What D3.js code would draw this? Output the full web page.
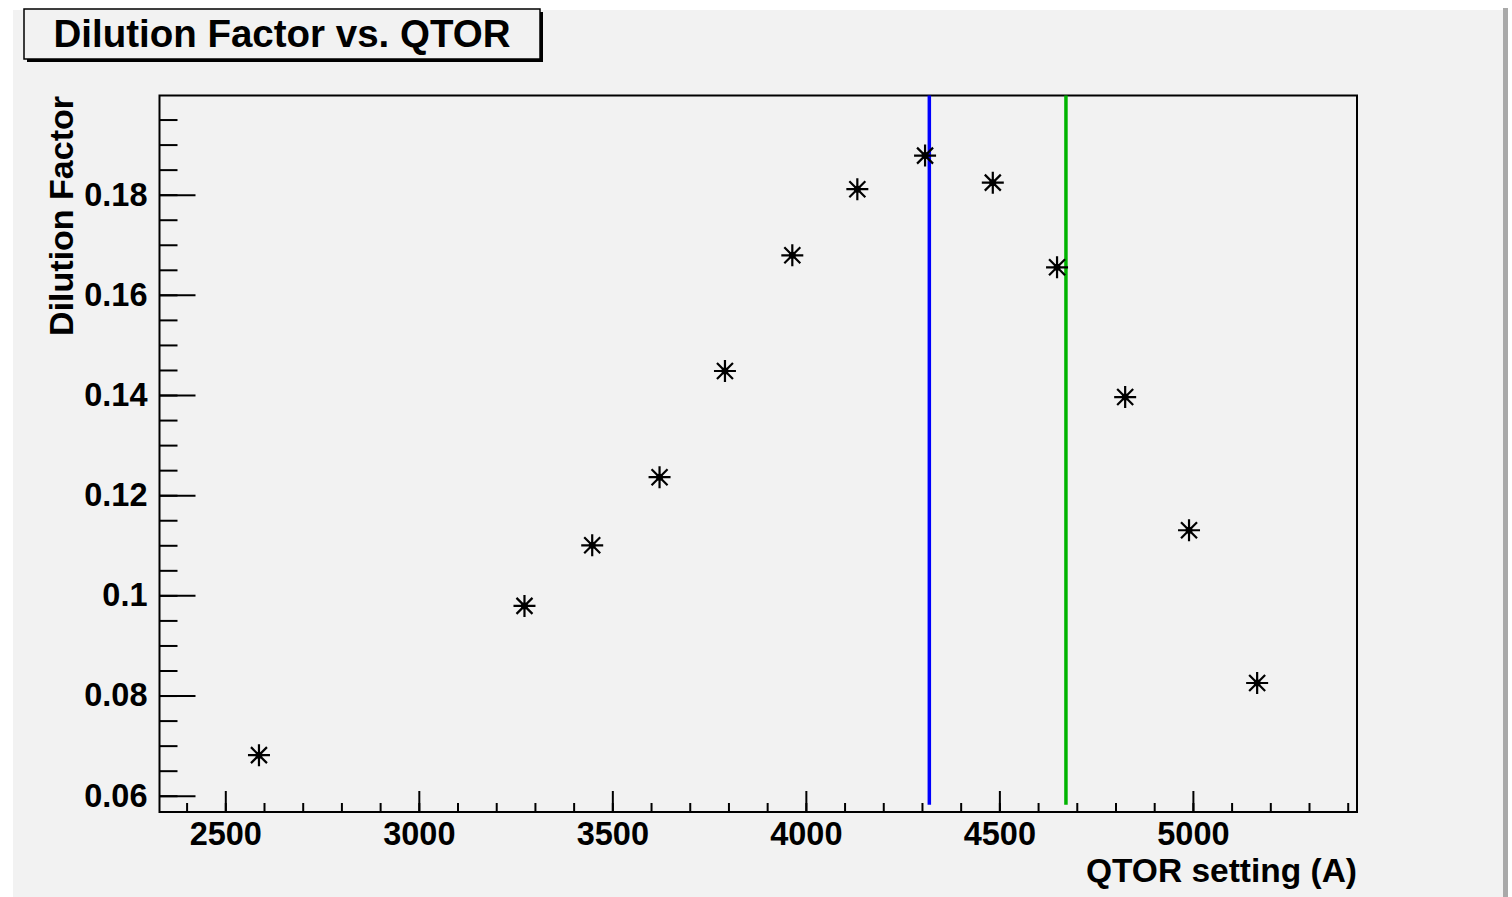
<!DOCTYPE html>
<html>
<head>
<meta charset="utf-8">
<script src="https://cdn.jsdelivr.net/npm/d3@7"></script>
<style>
	body { margin: 0; background: #ffffff; }
	svg text { font-family: "Liberation Sans", Arial, sans-serif; font-weight: bold; fill: #000; }
</style>
</head>
<body>
<svg id="chart" width="1512" height="897"></svg>
<script>
// data
var qtorSetting   = [2587, 3273, 3448, 3622, 3791, 3965, 4133, 4308, 4483, 4649, 4825, 4990, 5166];
var dilutionFactor = [0.0681, 0.0979, 0.1100, 0.1236, 0.1448, 0.1679, 0.1811, 0.1878, 0.1824, 0.1655, 0.1396, 0.1130, 0.0825];
var cutPositions  = [4319, 4672];
var cutColors     = ["#0000ff", "#00b400"];
var xTickValues   = [2500, 3000, 3500, 4000, 4500, 5000];
var yTickValues   = [0.06, 0.08, 0.1, 0.12, 0.14, 0.16, 0.18];
var xRange = [2330, 5424];
var yRange = [0.05675, 0.1998];

var titleText  = "Dilution Factor vs. QTOR";
var xAxisTitle = "QTOR setting (A)";
var yAxisTitle = "Dilution Factor";

var svg = d3.select("#chart");

// canvas
svg.append("rect").attr("x", 13).attr("y", 10).attr("width", 1490).attr("height", 887).attr("fill", "#f2f2f2");
svg.append("rect").attr("x", 1503).attr("y", 8).attr("width", 5).attr("height", 889).attr("fill", "#a9a9a9");

var frame = { left: 159.5, right: 1357, top: 95.5, bottom: 812 };

var x = d3.scaleLinear().domain(xRange).range([frame.left, frame.right]);
var y = d3.scaleLinear().domain(yRange).range([frame.bottom, frame.top]);

var g = svg.append("g");

//minor ticks
g.append("g").attr("transform", "translate(0," + frame.bottom + ")")
	.call(d3.axisBottom(x).tickValues(d3.range(2400, 5401, 100)).tickSize(-9).tickFormat(""))
	.call(styleAxis);
g.append("g").attr("transform", "translate(" + frame.left + ",0)")
	.call(d3.axisLeft(y).tickValues(d3.range(60, 196, 5).map(function(d){ return d / 1000; })).tickSize(-18).tickFormat(""))
	.call(styleAxis);

//major ticks
g.append("g").attr("transform", "translate(0," + frame.bottom + ")")
	.call(d3.axisBottom(x).tickValues(xTickValues).tickSize(-21).tickPadding(10).tickFormat(d3.format("d")))
	.call(styleAxis)
	.selectAll("text").style("font-size", "32.5px");
g.append("g").attr("transform", "translate(" + frame.left + ",0)")
	.call(d3.axisLeft(y).tickValues(yTickValues).tickSize(-36).tickPadding(12).tickFormat(function(d){ return String(+d.toFixed(2)); }))
	.call(styleAxis)
	.selectAll("text").style("font-size", "32.5px");

// frame
g.append("rect")
	.attr("x", frame.left).attr("y", frame.top)
	.attr("width", frame.right - frame.left).attr("height", frame.bottom - frame.top)
	.attr("fill", "none").attr("stroke", "#000").attr("stroke-width", 2);

// cut lines
g.selectAll("line.cut").data(cutPositions).enter().append("line")
	.attr("class", "cut")
	.attr("x1", function(d){ return x(d); }).attr("x2", function(d){ return x(d); })
	.attr("y1", y(yRange[1])).attr("y2", y(0.0582))
	.attr("stroke", function(d, i){ return cutColors[i]; })
	.attr("stroke-width", 3.5);

// markers (asterisk)
var points = qtorSetting.map(function(q, i){ return [q, dilutionFactor[i]]; });
var r = 11, rd = 8;
var starPath = "M" + (-r) + ",0H" + r + "M0," + (-r) + "V" + r +
	"M" + (-rd) + "," + (-rd) + "L" + rd + "," + rd +
	"M" + (-rd) + "," + rd + "L" + rd + "," + (-rd);
var marks = g.selectAll("g.point").data(points).enter().append("g")
	.attr("class", "point")
	.attr("transform", function(d){ return "translate(" + x(d[0]) + "," + y(d[1]) + ")"; });
marks.append("path").attr("d", starPath).attr("stroke", "#000").attr("stroke-width", 2.2).attr("fill", "none");
marks.append("circle").attr("r", 3.5).attr("fill", "#000");

// axis titles
svg.append("text")
	.attr("x", frame.right).attr("y", 882)
	.attr("text-anchor", "end")
	.style("font-size", "33.5px")
	.text(xAxisTitle);
svg.append("text")
	.attr("transform", "translate(73,96) rotate(-90)")
	.attr("text-anchor", "end")
	.style("font-size", "34px")
	.text(yAxisTitle);

// title box with shadow
svg.append("rect").attr("x", 27).attr("y", 12).attr("width", 516).attr("height", 50).attr("fill", "#000");
svg.append("rect").attr("x", 24).attr("y", 9).attr("width", 516).attr("height", 50)
	.attr("fill", "#f2f2f2").attr("stroke", "#000").attr("stroke-width", 1.5);
svg.append("text")
	.attr("x", 282).attr("y", 47)
	.attr("text-anchor", "middle")
	.style("font-size", "38.5px")
	.text(titleText);

function styleAxis( sel ){
	sel.select(".domain").remove();
	sel.selectAll(".tick line").attr("stroke", "#000").attr("stroke-width", 2);
}
</script>
</body>
</html>
